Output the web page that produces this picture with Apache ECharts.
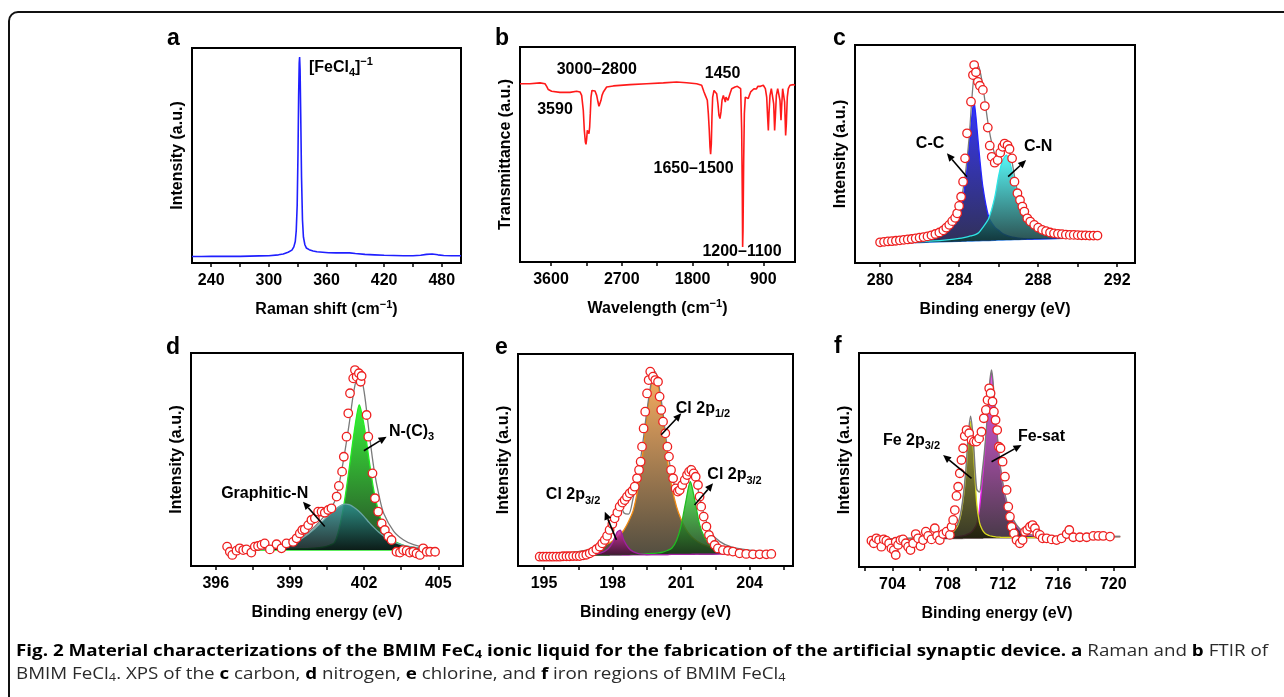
<!DOCTYPE html>
<html><head><meta charset="utf-8">
<script src="https://cdn.jsdelivr.net/npm/echarts@6/dist/echarts.min.js"></script>
<style>
html,body{margin:0;padding:0;background:#fff;overflow:hidden;width:1284px;height:697px;}
#wrap{position:relative;width:1284px;height:697px;overflow:hidden;background:#fff;}
#chart{position:absolute;left:0;top:0;width:1284px;height:697px;}
.cap{position:absolute;left:16px;white-space:nowrap;font-family:'Open Sans','Noto Sans',sans-serif;font-size:16px;line-height:20px;color:#2a2a2a;transform-origin:0 0;}
.cap b{color:#000;font-weight:700;}
.cap sub{font-size:0.68em;vertical-align:-0.22em;line-height:0;}
</style></head>
<body><div id="wrap"><div id="chart"></div>
<div class="cap" id="cap1" style="top:640px"><b>Fig. 2 Material characterizations of the BMIM FeC<sub>4</sub> ionic liquid for the fabrication of the artificial synaptic device. a</b> Raman and <b>b</b> FTIR of</div>
<div class="cap" id="cap2" style="top:663px">BMIM FeCl<sub>4</sub>. XPS of the <b>c</b> carbon, <b>d</b> nitrogen, <b>e</b> chlorine, and <b>f</b> iron regions of BMIM FeCl<sub>4</sub></div>
</div>
<script>
// fit caption width to the reference line length (done first so it never depends on the chart)
(function(){
  const c1=document.getElementById('cap1'), c2=document.getElementById('cap2');
  const w=c1.getBoundingClientRect().width;
  const s=1252/w;
  c1.style.transform='scaleX('+s+')'; c2.style.transform='scaleX('+s+')';
})();
// ---------------- DATA ----------------
// (a) Raman
const ramanX = [220,230,240,250,260,270,280,290,300,310,315,320,324,326,327.5,328.5,329.5,330.3,331.0,331.6,332.0,332.5,333.2,334.0,335.0,336.0,337.5,339,342,346,350,356,362,370,378,384,390,400,410,420,430,440,450,458,464,470,476,482,490,500];
const ramanY = [0.030,0.030,0.031,0.031,0.031,0.031,0.032,0.033,0.034,0.038,0.042,0.050,0.060,0.075,0.10,0.15,0.27,0.50,0.78,0.93,0.958,0.90,0.68,0.40,0.20,0.12,0.085,0.070,0.062,0.056,0.052,0.050,0.048,0.047,0.048,0.047,0.044,0.040,0.038,0.036,0.035,0.034,0.034,0.036,0.040,0.042,0.038,0.035,0.034,0.034];
// (b) FTIR
const ftirX = [3994,3867,3740,3676,3655,3634,3592,3486,3358,3274,3231,3210,3189,3176,3163,3155,3146,3138,3125,3117,3108,3100,3091,3079,3062,3040,3019,3002,2990,2977,2964,2951,2934,2892,2807,2595,2383,2171,2002,1875,1748,1684,1654,1637,1625,1612,1599,1587,1578,1570,1561,1553,1544,1527,1510,1493,1477,1464,1451,1438,1425,1408,1396,1383,1375,1362,1349,1336,1324,1302,1281,1260,1230,1205,1188,1175,1167,1163,1158,1150,1141,1129,1112,1091,1078,1061,1036,1019,1002,987,970,953,936,917,900,887,874,857,845,836,828,815,798,781,768,756,747,734,717,700,688,675,667,654,641,629,616,607,595,582,561,518,497];
const ftirY = [0.829,0.829,0.833,0.829,0.817,0.802,0.794,0.789,0.789,0.794,0.791,0.775,0.705,0.612,0.558,0.547,0.574,0.612,0.620,0.597,0.628,0.690,0.767,0.798,0.798,0.795,0.775,0.744,0.724,0.729,0.752,0.775,0.791,0.814,0.819,0.825,0.829,0.833,0.837,0.834,0.829,0.822,0.791,0.775,0.783,0.752,0.690,0.612,0.535,0.501,0.550,0.674,0.767,0.798,0.802,0.783,0.736,0.682,0.667,0.698,0.752,0.775,0.760,0.744,0.767,0.775,0.752,0.744,0.783,0.806,0.814,0.814,0.817,0.817,0.806,0.612,0.302,0.070,0.147,0.457,0.690,0.767,0.775,0.760,0.775,0.791,0.798,0.806,0.811,0.805,0.817,0.822,0.817,0.820,0.822,0.817,0.806,0.767,0.674,0.612,0.690,0.775,0.806,0.798,0.736,0.612,0.674,0.775,0.806,0.798,0.752,0.659,0.721,0.806,0.798,0.744,0.589,0.643,0.767,0.806,0.822,0.825,0.822];
// (c) C 1s XPS
const cPoints = [[280.0,0.095],[280.2,0.097],[280.4,0.099],[280.6,0.100],[280.8,0.102],[281.0,0.104],[281.2,0.106],[281.4,0.108],[281.6,0.110],[281.8,0.113],[282.0,0.116],[282.2,0.119],[282.4,0.122],[282.6,0.127],[282.8,0.133],[283.0,0.140],[283.2,0.150],[283.35,0.162],[283.5,0.175],[283.65,0.192],[283.8,0.207],[283.9,0.228],[284.0,0.262],[284.1,0.304],[284.2,0.373],[284.3,0.48],[284.4,0.595],[284.6,0.740],[284.7,0.862],[284.76,0.908],[284.85,0.875],[284.95,0.831],[285.05,0.813],[285.2,0.794],[285.3,0.72],[285.45,0.621],[285.55,0.538],[285.65,0.487],[285.8,0.460],[285.95,0.472],[286.08,0.506],[286.2,0.533],[286.3,0.548],[286.45,0.540],[286.55,0.523],[286.68,0.480],[286.8,0.373],[286.95,0.320],[287.08,0.289],[287.2,0.259],[287.3,0.236],[287.45,0.205],[287.6,0.19],[287.8,0.175],[288.0,0.162],[288.2,0.152],[288.4,0.146],[288.6,0.140],[288.8,0.136],[289.0,0.134],[289.2,0.132],[289.4,0.130],[289.6,0.129],[289.8,0.129],[290.0,0.128],[290.2,0.127],[290.4,0.127],[290.6,0.126],[290.8,0.126],[291.0,0.126]];
const cX    = [280,281,282,283,283.5,284,284.3,284.5,284.65,284.75,284.85,285,285.2,285.5,285.8,286,286.2,286.4,286.6,286.8,287,287.3,287.6,288,289,290,291];
const cBase = [0.089,0.092,0.094,0.097,0.098,0.099,0.100,0.101,0.101,0.101,0.102,0.102,0.103,0.103,0.104,0.105,0.105,0.106,0.106,0.107,0.107,0.108,0.109,0.110,0.112,0.115,0.117];
const cCC   = [0.092,0.097,0.104,0.13,0.16,0.22,0.36,0.53,0.68,0.74,0.67,0.52,0.35,0.21,0.165,0.15,0.135,0.127,0.121,0.117,0.114,0.112,0.111,0.111,0.113,0.115,0.117];
const cCN   = [0.090,0.094,0.098,0.103,0.107,0.113,0.118,0.122,0.126,0.128,0.131,0.14,0.163,0.205,0.30,0.40,0.47,0.495,0.45,0.37,0.29,0.22,0.18,0.155,0.133,0.124,0.12];
const cFit  = [0.093,0.10,0.11,0.14,0.17,0.25,0.40,0.57,0.76,0.86,0.91,0.90,0.81,0.62,0.50,0.49,0.53,0.55,0.50,0.40,0.31,0.235,0.19,0.16,0.135,0.127,0.123];
// (d) N 1s XPS
const dPoints = [[396.46,0.091],[396.57,0.067],[396.67,0.052],[396.84,0.072],[396.97,0.083],[397.11,0.075],[397.24,0.078],[397.44,0.063],[397.58,0.091],[397.71,0.094],[397.85,0.099],[397.98,0.106],[398.19,0.078],[398.46,0.102],[398.66,0.083],[398.86,0.106],[399.13,0.113],[399.27,0.130],[399.40,0.153],[399.50,0.169],[399.60,0.172],[399.74,0.192],[399.87,0.216],[400.01,0.224],[400.14,0.255],[400.28,0.255],[400.41,0.250],[400.55,0.263],[400.68,0.271],[400.89,0.326],[400.98,0.376],[401.11,0.443],[401.18,0.513],[401.29,0.607],[401.36,0.717],[401.43,0.811],[401.56,0.881],[401.63,0.920],[401.70,0.889],[401.79,0.905],[401.86,0.865],[401.90,0.892],[402.10,0.709],[402.17,0.607],[402.34,0.435],[402.44,0.318],[402.57,0.255],[402.71,0.200],[402.84,0.169],[402.98,0.138],[403.11,0.122],[403.31,0.067],[403.45,0.063],[403.58,0.075],[403.72,0.072],[403.85,0.063],[403.99,0.067],[404.12,0.059],[404.26,0.052],[404.39,0.083],[404.53,0.067],[404.67,0.067],[404.87,0.067]];
const dX     = [397.5,398,398.5,399,399.5,400,400.4,400.8,401.0,401.2,401.4,401.6,401.8,402.0,402.2,402.4,402.6,402.8,403.2,403.6,404.0,404.4,404.9];
const dBase  = [0.075,0.075,0.075,0.075,0.075,0.075,0.075,0.075,0.075,0.075,0.075,0.075,0.075,0.075,0.075,0.075,0.075,0.075,0.075,0.075,0.075,0.075,0.075];
const dGraph = [0.076,0.079,0.085,0.098,0.13,0.175,0.22,0.262,0.28,0.29,0.288,0.275,0.256,0.232,0.205,0.18,0.158,0.14,0.113,0.097,0.088,0.082,0.079];
const dNC3   = [0.076,0.077,0.078,0.079,0.081,0.084,0.09,0.11,0.18,0.30,0.46,0.63,0.756,0.66,0.50,0.35,0.25,0.18,0.12,0.097,0.087,0.081,0.078];
const dFit   = [0.077,0.081,0.088,0.102,0.136,0.184,0.235,0.30,0.39,0.52,0.67,0.83,0.92,0.82,0.63,0.455,0.333,0.245,0.163,0.122,0.10,0.089,0.083];
// (e) Cl 2p XPS
const ePoints = [[194.81,0.044],[194.96,0.044],[195.10,0.044],[195.25,0.044],[195.39,0.044],[195.54,0.044],[195.69,0.044],[195.83,0.046],[195.98,0.046],[196.12,0.046],[196.27,0.047],[196.42,0.047],[196.56,0.047],[196.71,0.050],[196.85,0.053],[197.00,0.060],[197.14,0.068],[197.29,0.079],[197.44,0.091],[197.55,0.107],[197.66,0.123],[197.76,0.142],[197.87,0.170],[197.99,0.198],[198.09,0.225],[198.21,0.252],[198.31,0.280],[198.43,0.299],[198.53,0.311],[198.63,0.327],[198.75,0.343],[198.87,0.355],[198.97,0.374],[199.07,0.414],[199.16,0.453],[199.23,0.492],[199.29,0.563],[199.36,0.649],[199.43,0.728],[199.51,0.814],[199.58,0.877],[199.65,0.917],[199.77,0.893],[199.87,0.877],[199.99,0.869],[200.06,0.799],[200.13,0.736],[200.21,0.681],[200.31,0.626],[200.40,0.563],[200.47,0.516],[200.56,0.453],[200.65,0.414],[200.76,0.366],[200.86,0.351],[200.94,0.358],[201.05,0.382],[201.16,0.406],[201.26,0.429],[201.35,0.445],[201.45,0.453],[201.55,0.437],[201.64,0.421],[201.74,0.382],[201.81,0.327],[201.88,0.280],[201.99,0.233],[202.11,0.186],[202.22,0.146],[202.32,0.123],[202.47,0.099],[202.61,0.083],[202.83,0.075],[203.05,0.072],[203.27,0.068],[203.56,0.060],[203.85,0.057],[204.15,0.055],[204.44,0.055],[204.73,0.055],[204.95,0.057]];
const eX     = [195.8,196.5,197,197.5,197.8,198.0,198.2,198.35,198.5,198.7,198.9,199.1,199.3,199.5,199.7,199.85,200.0,200.2,200.4,200.6,200.8,201.0,201.2,201.4,201.6,201.8,202.0,202.3,202.7,203.2,204.0,205.0];
const eBase  = [0.050,0.050,0.051,0.051,0.051,0.052,0.052,0.052,0.052,0.052,0.053,0.053,0.053,0.053,0.054,0.054,0.054,0.054,0.054,0.055,0.055,0.055,0.055,0.055,0.056,0.056,0.056,0.056,0.057,0.057,0.058,0.058];
const eP12   = [0.060,0.068,0.076,0.09,0.105,0.118,0.135,0.15,0.17,0.21,0.26,0.36,0.51,0.70,0.86,0.90,0.85,0.70,0.50,0.37,0.28,0.22,0.175,0.145,0.125,0.11,0.10,0.088,0.078,0.071,0.066,0.063];
const eP32R  = [0.051,0.052,0.052,0.053,0.053,0.054,0.054,0.054,0.055,0.055,0.056,0.056,0.057,0.058,0.059,0.060,0.062,0.066,0.073,0.085,0.12,0.19,0.30,0.398,0.31,0.20,0.14,0.095,0.075,0.066,0.061,0.059];
const eP32L  = [0.050,0.051,0.053,0.062,0.08,0.11,0.16,0.168,0.12,0.085,0.068,0.060,0.056,0.054,0.054,0.054,0.054,0.054,0.054,0.055,0.055,0.055,0.055,0.055,0.056,0.056,0.056,0.056,0.057,0.057,0.058,0.058];
const eFit   = [0.06,0.068,0.078,0.10,0.14,0.19,0.27,0.285,0.25,0.245,0.32,0.42,0.56,0.73,0.87,0.918,0.87,0.73,0.55,0.43,0.365,0.385,0.445,0.475,0.435,0.33,0.245,0.16,0.115,0.09,0.075,0.068];
// (f) Fe 2p XPS
const fPoints = [[702.48,0.123],[702.65,0.111],[702.84,0.134],[703.03,0.126],[703.20,0.095],[703.37,0.129],[703.56,0.123],[703.76,0.111],[703.93,0.087],[704.10,0.079],[704.24,0.118],[704.24,0.056],[704.41,0.103],[704.58,0.126],[704.77,0.129],[704.97,0.111],[705.14,0.095],[705.31,0.079],[705.50,0.111],[705.69,0.154],[705.86,0.134],[706.03,0.098],[706.22,0.126],[706.42,0.165],[706.59,0.145],[706.83,0.129],[707.07,0.181],[707.24,0.145],[707.43,0.126],[707.67,0.154],[707.92,0.165],[708.16,0.150],[708.28,0.188],[708.40,0.220],[708.52,0.266],[708.64,0.332],[708.76,0.375],[708.88,0.438],[709.00,0.500],[709.12,0.555],[709.24,0.612],[709.37,0.640],[709.56,0.625],[709.73,0.593],[709.90,0.586],[710.09,0.586],[710.28,0.601],[710.45,0.632],[710.62,0.695],[710.77,0.734],[710.89,0.780],[711.01,0.835],[711.11,0.812],[711.25,0.773],[711.35,0.726],[711.47,0.687],[711.59,0.640],[711.71,0.562],[711.83,0.555],[711.98,0.492],[712.15,0.422],[712.27,0.360],[712.39,0.282],[712.51,0.235],[712.63,0.188],[712.80,0.157],[712.99,0.126],[713.23,0.111],[713.43,0.126],[713.60,0.165],[713.76,0.173],[713.96,0.188],[714.15,0.196],[714.32,0.181],[714.49,0.157],[714.68,0.150],[714.88,0.134],[715.17,0.134],[715.53,0.129],[715.89,0.126],[716.25,0.134],[716.62,0.154],[716.81,0.173],[717.10,0.139],[717.58,0.139],[718.07,0.139],[718.55,0.145],[718.91,0.145],[719.27,0.145],[719.76,0.142]];
const fX    = [702.5,704,705.5,706.5,707.5,708.2,708.7,709.0,709.3,709.5,709.66,709.85,710.1,710.3,710.5,710.7,710.9,711.05,711.18,711.35,711.55,711.8,712.1,712.5,713,713.7,714.5,716,718,720.5];
const fBase = [0.129,0.130,0.131,0.132,0.132,0.133,0.133,0.133,0.134,0.134,0.134,0.134,0.134,0.134,0.134,0.135,0.135,0.135,0.135,0.135,0.135,0.135,0.136,0.136,0.136,0.137,0.137,0.138,0.140,0.142];
const fFe   = [0.130,0.131,0.133,0.135,0.14,0.155,0.19,0.26,0.42,0.60,0.679,0.56,0.30,0.21,0.175,0.158,0.150,0.146,0.144,0.142,0.140,0.139,0.138,0.138,0.137,0.137,0.137,0.138,0.140,0.142];
const fSat  = [0.130,0.131,0.133,0.134,0.136,0.138,0.141,0.144,0.149,0.155,0.16,0.172,0.20,0.27,0.40,0.54,0.71,0.85,0.905,0.80,0.64,0.47,0.35,0.255,0.19,0.152,0.145,0.141,0.141,0.142];
const fFit  = [0.131,0.132,0.135,0.137,0.144,0.160,0.198,0.27,0.435,0.62,0.705,0.60,0.365,0.35,0.44,0.56,0.72,0.86,0.92,0.81,0.645,0.475,0.355,0.26,0.195,0.155,0.148,0.142,0.142,0.143];

// tick values
const aTicks = [240,300,360,420,480],      aMinor = [270,330,390,450];
const bTicks = [3600,2700,1800,900],       bMinor = [3150,2250,1350];
const cTicks = [280,284,288,292],          cMinor = [282,286,290];
const dTicks = [396,399,402,405],          dMinor = [397.5,400.5,403.5];
const eTicks = [195,198,201,204],          eMinor = [196.5,199.5,202.5,205.5];
const fTicks = [704,708,712,716,720],      fMinor = [702,706,710,714,718];

// annotations (text, text position in data units, arrow tail/head in data units)
const aLabels = ['{n|[FeCl}{sub|4}{n|]}{sup|−1}'];
const aLabelPos = [[375,0.91]];
const bLabels = ['3000–2800','3590','1450','1650–1500','1200–1100'];
const bLabelPos = [[3018,0.893],[3549,0.707],[1418,0.878],[1787,0.436],[1171,0.048]];
const cLabels = ['C-C','C-N'];
const cLabelPos = [[282.53,0.55],[288.0,0.533]];
const cArrows = [[284.39,0.396,283.38,0.503],[286.48,0.396,287.39,0.472]];
const dLabels = ['Graphitic-N','{n|N-(C)}{sub|3}'];
const dLabelPos = [[397.98,0.341],[403.92,0.631]];
const dArrows = [[400.41,0.185,399.53,0.302],[401.99,0.541,402.91,0.607]];
const eLabels = ['{n|Cl 2p}{sub|1/2}','{n|Cl 2p}{sub|3/2}','{n|Cl 2p}{sub|3/2}'];
const eLabelPos = [[201.96,0.744],[203.34,0.429],[196.27,0.335]];
const eArrows = [[200.13,0.619,201.01,0.72],[201.59,0.288,202.40,0.39],[198.17,0.123,197.66,0.256]];
const fLabels = ['{n|Fe 2p}{sub|3/2}','Fe-sat'];
const fLabelPos = [[705.38,0.593],[714.80,0.609]];
const fArrows = [[709.73,0.414,707.67,0.523],[711.18,0.492,713.35,0.570]];

// ---------------- CHART ----------------
const FONT = "'Liberation Sans', Arial, Helvetica, sans-serif";
function rich(fs){
  const s = Math.round(fs*0.66);
  return {
    n:{fontFamily:FONT,fontWeight:'bold',fontSize:fs,lineHeight:fs+6,color:'#000',fill:'#000',verticalAlign:'middle'},
    sub:{fontFamily:FONT,fontWeight:'bold',fontSize:s,lineHeight:s+1,color:'#000',fill:'#000',verticalAlign:'bottom'},
    sup:{fontFamily:FONT,fontWeight:'bold',fontSize:s,lineHeight:s+1,color:'#000',fill:'#000',verticalAlign:'top'}
  };
}
const panels = [
  {L:'a', box:[192,48,269,215], min:220, max:500, inv:false, ticks:aTicks, minor:aMinor, xn:'{n|Raman shift (cm}{sup|−1}{n|)}', yn:'Intensity (a.u.)', lab:[167,40]},
  {L:'b', box:[520,47,275,215], min:497, max:3994, inv:true, ticks:bTicks, minor:bMinor, xn:'{n|Wavelength (cm}{sup|−1}{n|)}', yn:'Transmittance (a.u.)', lab:[495,40]},
  {L:'c', box:[855,45,280,218], min:278.73, max:292.9, inv:false, ticks:cTicks, minor:cMinor, xn:'{n|Binding energy (eV)}', yn:'Intensity (a.u.)', lab:[833,40]},
  {L:'d', box:[191,353,272,213], min:395, max:406, inv:false, ticks:dTicks, minor:dMinor, xn:'{n|Binding energy (eV)}', yn:'Intensity (a.u.)', lab:[166,349]},
  {L:'e', box:[518,354,275,212], min:193.86, max:205.9, inv:false, ticks:eTicks, minor:eMinor, xn:'{n|Binding energy (eV)}', yn:'Intensity (a.u.)', lab:[495,349]},
  {L:'f', box:[859,353,276,214], min:701.58, max:721.57, inv:false, ticks:fTicks, minor:fMinor, xn:'{n|Binding energy (eV)}', yn:'Intensity (a.u.)', lab:[834,348]}
];
const grids=[], xAxes=[], yAxes=[];
// outer figure frame: left edge, rounded top-left corner, top edge
const FRAME = {stroke:'#111',lineWidth:2,fill:null};
const graphics=[
  {type:'line',silent:true,shape:{x1:9,y1:720,x2:9,y2:21},style:FRAME},
  {type:'arc',silent:true,shape:{cx:18,cy:21,r:9,startAngle:Math.PI,endAngle:Math.PI*1.5,clockwise:true},style:FRAME},
  {type:'line',silent:true,shape:{x1:18,y1:12,x2:1320,y2:12},style:FRAME}
];
panels.forEach((p,i)=>{
  grids.push({left:p.box[0],top:p.box[1],width:p.box[2],height:p.box[3],show:true,borderColor:'#000',borderWidth:2,backgroundColor:'transparent'});
  xAxes.push({gridIndex:i,type:'value',min:p.min,max:p.max,inverse:p.inv,
    axisLine:{show:false},
    axisTick:{show:true,length:4,inside:false,lineStyle:{color:'#000',width:1.5},customValues:p.ticks.concat(p.minor)},
    axisLabel:{show:true,customValues:p.ticks,margin:10,color:'#000',fontFamily:FONT,fontWeight:'bold',fontSize:16,formatter:v=>String(v)},
    splitLine:{show:false},
    name:p.xn,nameLocation:'middle',nameGap:36,
    nameTextStyle:{fontFamily:FONT,fontWeight:'bold',fontSize:16,color:'#000',rich:rich(16)}});
  yAxes.push({gridIndex:i,type:'value',min:0,max:1,
    axisLine:{show:false},axisTick:{show:false},axisLabel:{show:false},splitLine:{show:false},
    name:p.yn,nameLocation:'middle',nameRotate:90,nameGap:6,
    nameTextStyle:{fontFamily:FONT,fontWeight:'bold',fontSize:16,color:'#000'}});
  graphics.push({type:'text',left:p.lab[0],top:p.lab[1]-13,style:{text:p.L,font:"bold 23px 'Liberation Sans', Arial, sans-serif",fill:'#000'}});
});

function zip(xs,ys){return xs.map((x,i)=>[x,ys[i]]);}
function lineS(gi,xs,ys,color,w,z,smooth){
  return {type:'line',xAxisIndex:gi,yAxisIndex:gi,data:zip(xs,ys),showSymbol:false,symbol:'none',smooth:smooth||false,
    lineStyle:{color:color,width:w},z:z||3,silent:true,animation:false};
}
function peakS(gi,xs,top,base,c1,c2,stroke,z){
  return {type:'custom',xAxisIndex:gi,yAxisIndex:gi,silent:true,z:z,data:[[xs[0],base[0]]],
    renderItem:function(params,api){
      const up = xs.map((x,k)=>api.coord([x,top[k]]));
      const dn = xs.map((x,k)=>api.coord([x,base[k]])).reverse();
      return {type:'group',children:[
        {type:'polygon',shape:{points:up.concat(dn),smooth:0.25},
          style:{fill:new echarts.graphic.LinearGradient(0,0,0,1,[{offset:0,color:c1},{offset:1,color:c2}]),opacity:0.88}},
        {type:'polyline',shape:{points:up,smooth:0.25},style:{stroke:stroke,lineWidth:1.3,fill:null}}
      ]};
    }};
}
function scatterS(gi,pts){
  return {type:'scatter',xAxisIndex:gi,yAxisIndex:gi,data:pts,symbol:'circle',symbolSize:8.5,z:6,silent:true,
    itemStyle:{color:'#ffffff',borderColor:'#ee2020',borderWidth:1.3,opacity:1}};
}
function annS(gi,texts,pos,arrows,fs){
  return {type:'custom',xAxisIndex:gi,yAxisIndex:gi,silent:true,z:10,data:pos,
    renderItem:function(params,api){
      const k=params.dataIndex;
      const c=api.coord([api.value(0),api.value(1)]);
      let t=texts[k]; if(t.indexOf('{')<0) t='{n|'+t+'}';
      const ch=[{type:'text',style:{text:t,x:c[0],y:c[1],align:'center',verticalAlign:'middle',rich:rich(fs),fill:'#000'}}];
      const ar=arrows&&arrows[k];
      if(ar){
        const p1=api.coord([ar[0],ar[1]]), p2=api.coord([ar[2],ar[3]]);
        const dx=p2[0]-p1[0], dy=p2[1]-p1[1], Ln=Math.hypot(dx,dy), ux=dx/Ln, uy=dy/Ln;
        const hl=8, hw=3.6, bx=p2[0]-ux*hl, by=p2[1]-uy*hl;
        ch.push({type:'line',shape:{x1:p1[0],y1:p1[1],x2:bx,y2:by},style:{stroke:'#000',lineWidth:1.6}});
        ch.push({type:'polygon',shape:{points:[p2,[bx-uy*hw,by+ux*hw],[bx+uy*hw,by-ux*hw]]},style:{fill:'#000'}});
      }
      return {type:'group',children:ch};
    }};
}

const series = [
  lineS(0,ramanX,ramanY,'#1f1fff',1.6,3,false),
  annS(0,aLabels,aLabelPos,null,16),
  lineS(1,ftirX,ftirY,'#ff1a1a',1.6,3,false),
  annS(1,bLabels,bLabelPos,null,16),
  // c
  lineS(2,cX,cBase,'#2a7ad8',1.3,2),
  peakS(2,cX,cCC,cBase,'#1c1cf2','#141440','#2323ff',3),
  peakS(2,cX,cCN,cBase,'#40f6f6','#0d3434','#2fe6e6',4),
  lineS(2,cX,cFit,'#7a7a7a',1.3,5,0.3),
  scatterS(2,cPoints),
  annS(2,cLabels,cLabelPos,cArrows,16),
  // d
  lineS(3,dX,dBase,'#2ae82a',1.5,2),
  peakS(3,dX,dNC3,dBase,'#1df01d','#0b300b','#22ee22',3),
  peakS(3,dX,dGraph,dBase,'#2c8e8e','#081616','#6aa6a6',4),
  lineS(3,dX,dFit,'#7a7a7a',1.3,5,0.3),
  scatterS(3,dPoints),
  annS(3,dLabels,dLabelPos,dArrows,16),
  // e
  lineS(4,eX,eBase,'#a030a0',1.3,2),
  peakS(4,eX,eP12,eBase,'#f6a04a','#3a3526','#f08a12',3),
  peakS(4,eX,eP32R,eBase,'#44ec44','#173817','#22bb22',4),
  peakS(4,eX,eP32L,eBase,'#d22aa6','#3e1030','#a020a0',4),
  lineS(4,eX,eFit,'#7a7a7a',1.3,5,0.3),
  scatterS(4,ePoints),
  annS(4,eLabels,eLabelPos,eArrows,16),
  // f
  lineS(5,fX,fBase,'#9a8a8a',1.5,2),
  peakS(5,fX,fSat,fBase,'#e445e4','#2e1e2e','#ee22ee',3),
  peakS(5,fX,fFe,fBase,'#8e8e16','#1c1c08','#d8d820',4),
  lineS(5,fX,fFit,'#7a7a7a',1.5,5,0.3),
  scatterS(5,fPoints),
  annS(5,fLabels,fLabelPos,fArrows,16)
];

const chart = echarts.init(document.getElementById('chart'),null,{renderer:'canvas'});
chart.setOption({animation:false,backgroundColor:'transparent',grid:grids,xAxis:xAxes,yAxis:yAxes,series:series,graphic:graphics});
</script></body></html>
